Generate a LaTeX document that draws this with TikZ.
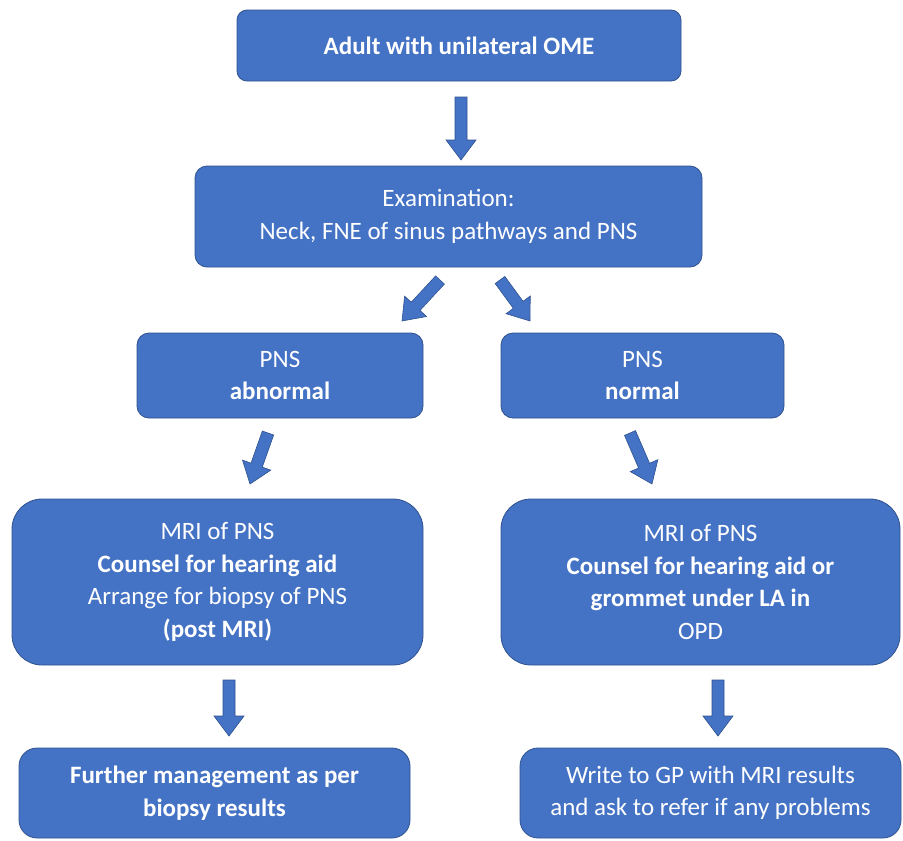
\documentclass[tikz,border=0pt]{standalone}
\usepackage{fontspec}
\setmainfont{Carlito}
\usetikzlibrary{calc}
\definecolor{boxblue}{HTML}{4472C4}
\definecolor{edgeblue}{HTML}{2F528F}
\tikzset{
  box/.style={draw=edgeblue, line width=0.8pt, fill=boxblue, text=white, align=center,
    inner sep=0pt, font=\fontsize{25}{32.5}\selectfont},
  barrow/.style={draw=edgeblue, line width=0.6pt, fill=boxblue}
}
\newcommand\blockarrow[2]{%
  \path[barrow] let \p1=(#1), \p2=(#2), \n1={atan2(\y2-\y1,\x2-\x1)},
    \n2={veclen(\x2-\x1,\y2-\y1)} in
    [shift={(\p1)}, rotate=\n1]
    (0pt,-6pt) -- (\n2-20pt,-6pt) -- (\n2-20pt,-15pt) -- (\n2,0pt)
    -- (\n2-20pt,15pt) -- (\n2-20pt,6pt) -- (0pt,6pt) -- cycle;}
\begin{document}
\begin{tikzpicture}[x=1pt,y=-1pt]
\useasboundingbox (0,0) rectangle (903,841);
\node[box, rounded corners=10pt, minimum width=444pt, minimum height=71pt] (a) at (459,45.5)
  {\bfseries Adult with unilateral OME};
\node[box, rounded corners=12pt, minimum width=507pt, minimum height=101pt] (b) at (448.5,216.5)
  {Examination:\\Neck, FNE of sinus pathways and PNS};
\node[box, rounded corners=12pt, minimum width=286pt, minimum height=85pt] (c) at (280,375.5)
  {PNS\\\bfseries abnormal};
\node[box, rounded corners=12pt, minimum width=283pt, minimum height=85pt] (d) at (642.5,375.5)
  {PNS\\\bfseries normal};
\node[box, rounded corners=30pt, minimum width=411pt, minimum height=166pt] (e) at (217.5,582)
  {MRI of PNS\\\textbf{Counsel for hearing aid}\\Arrange for biopsy of PNS\\\textbf{(post MRI)}};
\node[box, rounded corners=30pt, minimum width=399pt, minimum height=166pt] (f) at (700.5,582)
  {MRI of PNS\\\textbf{Counsel for hearing aid or}\\\textbf{grommet under LA in}\\OPD};
\node[box, rounded corners=18pt, minimum width=391pt, minimum height=90pt] (g) at (214.5,793)
  {\bfseries Further management as per\\\bfseries biopsy results};
\node[box, rounded corners=18pt, minimum width=381pt, minimum height=90pt] (h) at (710.5,793)
  {Write to GP with MRI results\\and ask to refer if any problems};
% arrow end points
\coordinate (ab1) at (461,97);  \coordinate (ab2) at (461,160);
\coordinate (bc1) at (440,280); \coordinate (bc2) at (402,321);
\coordinate (bd1) at (500,280); \coordinate (bd2) at (530,321);
\coordinate (ce1) at (268,433); \coordinate (ce2) at (250,484);
\coordinate (df1) at (630,433); \coordinate (df2) at (652,484);
\coordinate (eg1) at (229,680); \coordinate (eg2) at (229,736);
\coordinate (fh1) at (718,680); \coordinate (fh2) at (718,736);
\blockarrow{ab1}{ab2}
\blockarrow{bc1}{bc2}
\blockarrow{bd1}{bd2}
\blockarrow{ce1}{ce2}
\blockarrow{df1}{df2}
\blockarrow{eg1}{eg2}
\blockarrow{fh1}{fh2}
\end{tikzpicture}
\end{document}
